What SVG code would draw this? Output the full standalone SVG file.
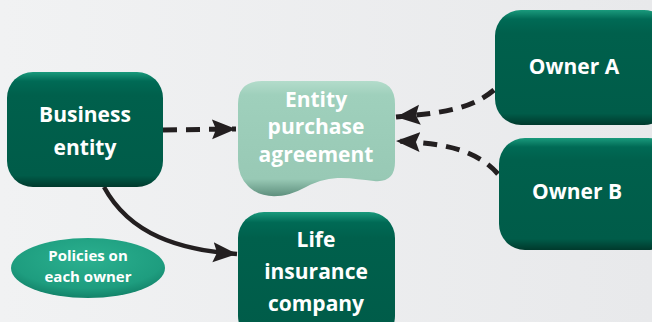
<svg xmlns="http://www.w3.org/2000/svg" width="652" height="322" viewBox="0 0 652 322">
<defs>
<linearGradient id="bg" x1="0" y1="0" x2="1" y2="0">
<stop offset="0" stop-color="#f1f2f3"/><stop offset="1" stop-color="#e8e9eb"/>
</linearGradient>
<linearGradient id="dk" x1="0" y1="0" x2="0" y2="1">
<stop offset="0" stop-color="#1a9a7c"/><stop offset="0.08" stop-color="#006a55"/><stop offset="0.2" stop-color="#00604c"/><stop offset="0.9" stop-color="#005c49"/><stop offset="1" stop-color="#00392c"/>
</linearGradient>
<linearGradient id="lt" x1="0" y1="0" x2="0" y2="1">
<stop offset="0" stop-color="#b3dccb"/><stop offset="0.12" stop-color="#9fd0bc"/><stop offset="0.85" stop-color="#98c9b5"/><stop offset="1" stop-color="#5e8f7d"/>
</linearGradient>
<radialGradient id="el" cx="0.5" cy="0.35" r="0.7">
<stop offset="0" stop-color="#2bb08f"/><stop offset="0.7" stop-color="#1e9d7f"/><stop offset="1" stop-color="#0f7a62"/>
</radialGradient>
<marker id="ah" markerUnits="userSpaceOnUse" markerWidth="26" markerHeight="22" refX="24" refY="11" orient="auto">
<path d="M0,1 L24,11 L0,21 L4,11 Z" fill="#231f20"/>
</marker>
<style>
.node{fill:url(#dk)}
.t{font-family:"Open Sans","Noto Sans",sans-serif;font-weight:bold;fill:#ffffff;text-anchor:middle}
.big{font-size:21px}
.sm{font-size:15px}
.dash{fill:none;stroke:#231f20;stroke-width:5;stroke-dasharray:14 9}
.solid{fill:none;stroke:#231f20;stroke-width:4.5}
</style>
</defs>
<rect width="652" height="322" fill="url(#bg)"/>
<g id="connectors">
<path class="dash" d="M163,130 L236,129" marker-end="url(#ah)"/>
<path class="dash" d="M494,90 C470,110 440,113 396,117" marker-end="url(#ah)"/>
<path class="dash" d="M498,174 C475,148 440,143 396,141" marker-end="url(#ah)"/>
<path class="solid" d="M104,187 C130,235 180,250 237,254" marker-end="url(#ah)"/>
</g>
<g id="business-entity">
<rect class="node" x="7" y="72" width="156" height="115" rx="26"/>
<text class="t big" x="85" y="122">Business</text>
<text class="t big" x="85" y="155">entity</text>
</g>
<g id="entity-purchase-agreement">
<path fill="url(#lt)" d="M262,81 H372 Q395,81 395,104 V162 Q395,183 374,181 C352,179 332,173 306,187 C284,199 262,200 248,186 Q238,176 238,160 V104 Q238,81 262,81 Z"/>
<text class="t big" x="316" y="107">Entity</text>
<text class="t big" x="316" y="134">purchase</text>
<text class="t big" x="316" y="162">agreement</text>
</g>
<g id="owner-a">
<rect class="node" x="495" y="10" width="175" height="115" rx="26"/>
<text class="t big" x="574" y="74">Owner A</text>
</g>
<g id="owner-b">
<rect class="node" x="499" y="138" width="175" height="112" rx="26"/>
<text class="t big" x="577" y="199">Owner B</text>
</g>
<g id="life-insurance-company">
<rect class="node" x="238" y="212" width="157" height="130" rx="26"/>
<text class="t big" x="316" y="247">Life</text>
<text class="t big" x="316" y="279">insurance</text>
<text class="t big" x="316" y="311">company</text>
</g>
<g id="policies">
<ellipse cx="88" cy="268" rx="77" ry="30" fill="url(#el)"/>
<text class="t sm" x="88" y="261">Policies on</text>
<text class="t sm" x="88" y="282">each owner</text>
</g>
</svg>
